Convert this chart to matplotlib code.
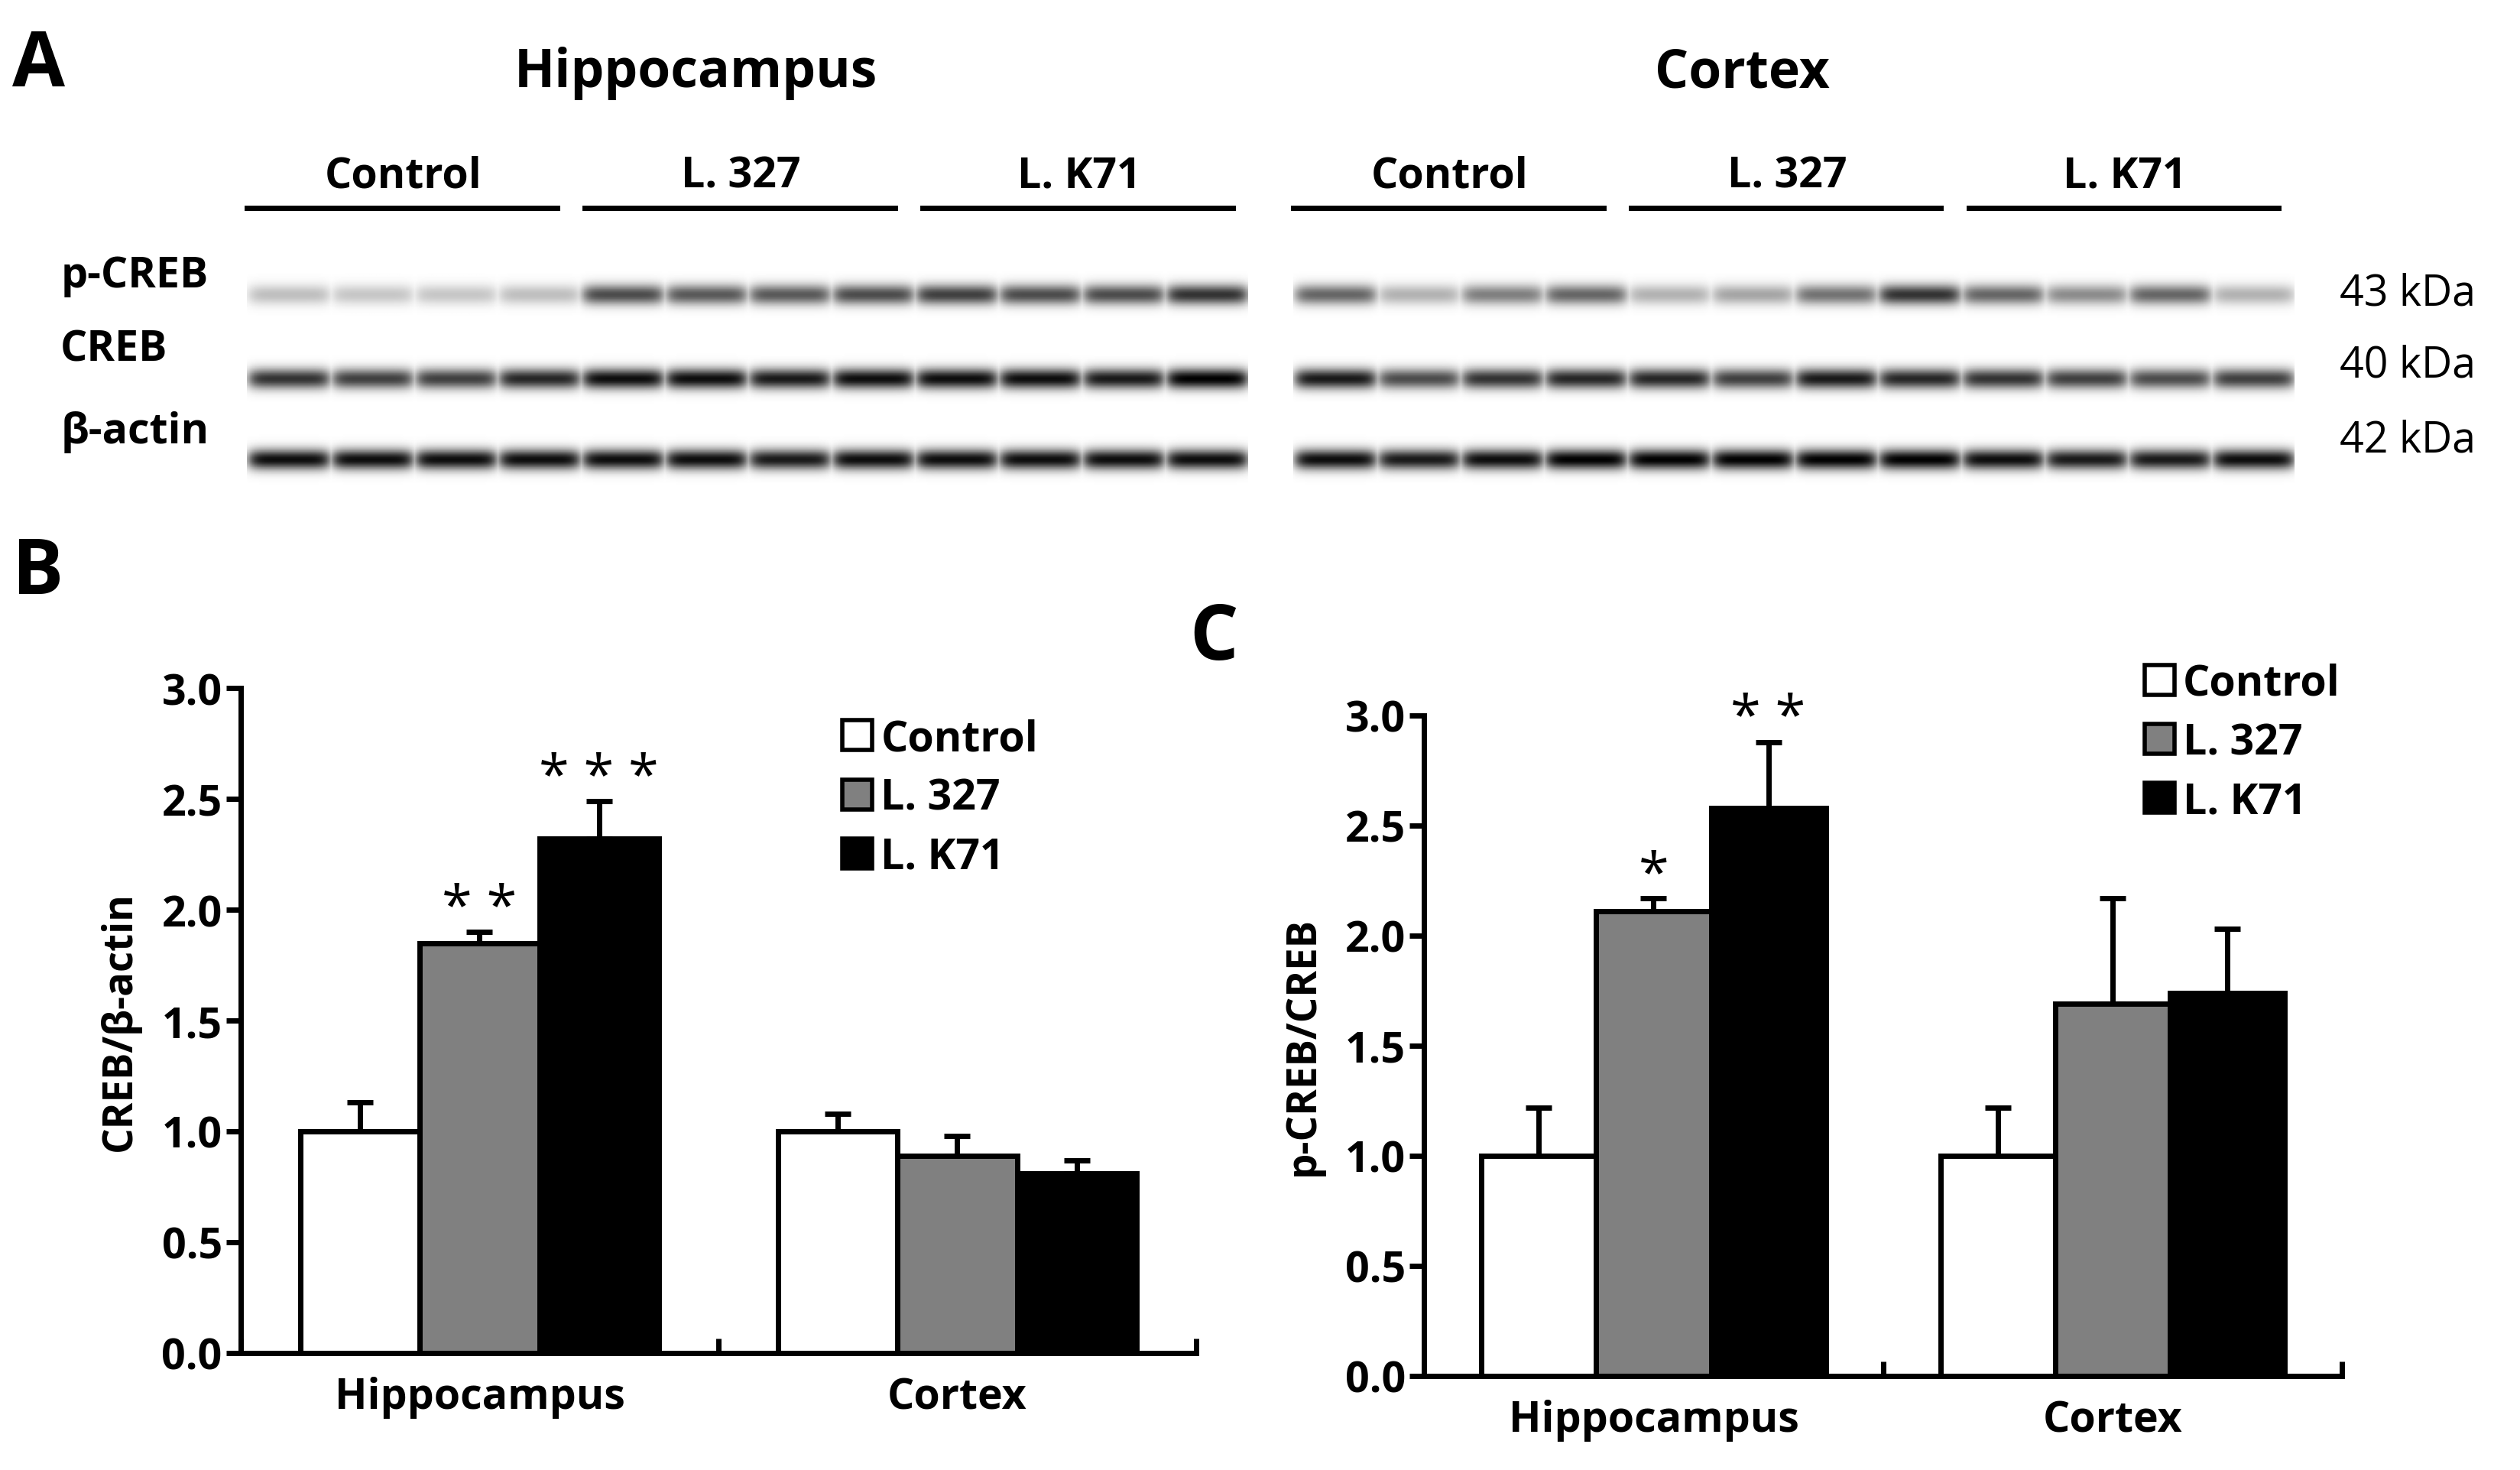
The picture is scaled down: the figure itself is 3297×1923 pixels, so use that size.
import numpy as np
import matplotlib.pyplot as plt

plt.rcParams['font.family'] = ['Open Sans', 'DejaVu Sans']
plt.rcParams['font.weight'] = 'bold'
plt.rcParams['axes.labelweight'] = 'bold'

regions = ['Hippocampus', 'Cortex']
groups = ['Control', 'L. 327', 'L. K71']
colors = ['white', '#808080', 'black']

creb_mean = [[1.0, 1.0], [1.85, 0.89], [2.32, 0.81]]
creb_err = [[0.13, 0.08], [0.05, 0.09], [0.17, 0.06]]
creb_stars = [['', ''], ['* *', ''], ['* * *', '']]

pcreb_mean = [[1.0, 1.0], [2.11, 1.69], [2.58, 1.74]]
pcreb_err = [[0.22, 0.22], [0.06, 0.48], [0.30, 0.29]]
pcreb_stars = [['', ''], ['*', ''], ['* *', '']]

# band intensities per lane (12 lanes per blot), rows: p-CREB, CREB, beta-actin
hip_bands = [
    [0.25, 0.22, 0.22, 0.25, 0.7, 0.65, 0.65, 0.7, 0.75, 0.7, 0.7, 0.8],
    [0.8, 0.75, 0.75, 0.85, 0.95, 0.95, 0.9, 0.95, 0.95, 0.95, 0.9, 1.0],
    [0.95, 0.95, 0.95, 0.95, 0.95, 0.95, 0.9, 0.95, 0.95, 0.95, 0.95, 0.95],
]
ctx_bands = [
    [0.6, 0.3, 0.5, 0.6, 0.3, 0.35, 0.55, 0.8, 0.6, 0.45, 0.6, 0.3],
    [0.9, 0.7, 0.8, 0.85, 0.85, 0.75, 0.9, 0.85, 0.8, 0.75, 0.7, 0.75],
    [0.95, 0.9, 0.95, 1.0, 1.0, 1.0, 1.0, 1.0, 0.95, 0.9, 0.9, 0.95],
]
band_labels = ['p-CREB', 'CREB', 'β-actin']
kda = ['43 kDa', '40 kDa', '42 kDa']

fig = plt.figure(figsize=(32.98, 19.24), dpi=100)


def blot_image(bands):
    h, w = 140, 600
    img = np.zeros((h, w))
    yy = np.arange(h)[:, None]
    xx = np.arange(w)[None, :]
    lane_w = w / 12
    centers_y = [22, 72, 120]
    for r, row in enumerate(bands):
        for i, v in enumerate(row):
            cx = (i + 0.5) * lane_w
            prof_x = np.exp(-((xx - cx) / (lane_w * 0.5)) ** 8)
            prof_y = np.exp(-((yy - centers_y[r]) / 6.0) ** 2)
            img = np.maximum(img, v * prof_x * prof_y)
    return 1 - img


for left, bands, title in [(0.098, hip_bands, 'Hippocampus'), (0.513, ctx_bands, 'Cortex')]:
    ax = fig.add_axes([left, 0.665, 0.397, 0.16])
    ax.imshow(blot_image(bands), cmap='gray', vmin=0, vmax=1, aspect='auto')
    ax.axis('off')
    fig.text(left + 0.178, 0.95, title, fontsize=50, ha='center', va='center')
    for j, g in enumerate(groups):
        x0 = left + j * 0.134
        fig.add_artist(plt.Line2D([x0, x0 + 0.123], [0.858, 0.858], color='black', lw=5))
        fig.text(x0 + 0.062, 0.88, g, fontsize=40, ha='center', va='center')

for i, lab in enumerate(band_labels):
    fig.text(0.024, [0.812, 0.762, 0.706][i], lab, fontsize=40, va='center')
    fig.text(0.928, [0.8, 0.751, 0.7][i], kda[i], fontsize=40, va='center', weight='normal')

fig.text(0.005, 0.955, 'A', fontsize=72, va='center')
fig.text(0.005, 0.61, 'B', fontsize=72, va='center')
fig.text(0.472, 0.565, 'C', fontsize=72, va='center')


def bar_panel(rect, means, errs, stars, ylabel, leg_anchor):
    ax = fig.add_axes(rect)
    w = 0.25
    x = np.array([0.5, 1.5])
    for k in range(3):
        xs = x + (k - 1) * w
        ax.bar(xs, means[k], w, color=colors[k], edgecolor='black', lw=5,
               label=groups[k], zorder=2)
        ax.errorbar(xs, means[k], yerr=[np.zeros(2), errs[k]], fmt='none',
                    ecolor='black', elinewidth=5, capsize=12, capthick=5, zorder=1)
        for xi, m, e, s in zip(xs, means[k], errs[k], stars[k]):
            if s:
                ax.text(xi, m + e - 0.02, s, ha='center', va='bottom', fontsize=52,
                        weight='normal')
    ax.set_xlim(0, 2)
    ax.set_ylim(0, 3)
    ax.set_yticks(np.arange(0, 3.01, 0.5))
    ax.set_yticklabels([f'{v:.1f}' for v in np.arange(0, 3.01, 0.5)])
    ax.set_xticks([0, 1, 2], minor=False)
    ax.set_xticklabels([])
    ax.set_xticks(x, minor=True)
    ax.set_xticklabels(regions, minor=True)
    ax.tick_params(axis='x', which='minor', length=0, pad=22, labelsize=40)
    ax.tick_params(axis='x', which='major', length=14, width=5, direction='in')
    ax.tick_params(axis='y', length=14, width=5, labelsize=40, direction='out')
    for s in ['top', 'right']:
        ax.spines[s].set_visible(False)
    for s in ['left', 'bottom']:
        ax.spines[s].set_linewidth(5)
    ax.set_ylabel(ylabel, fontsize=38, labelpad=20)
    leg = ax.legend(loc='upper left', bbox_to_anchor=leg_anchor, frameon=False,
                    fontsize=40, handlelength=0.7, handleheight=0.7, handletextpad=0.2,
                    labelspacing=0.4, borderaxespad=0, borderpad=0)
    for p in leg.get_patches():
        p.set_linewidth(4)
    return ax


bar_panel([0.0955, 0.0796, 0.379, 0.452], creb_mean, creb_err, creb_stars,
          'CREB/β-actin', (0.63, 0.955))
bar_panel([0.565, 0.064, 0.364, 0.449], pcreb_mean, pcreb_err, pcreb_stars,
          'p-CREB/CREB', (0.785, 1.08))

fig.savefig('out.png', dpi=100)
